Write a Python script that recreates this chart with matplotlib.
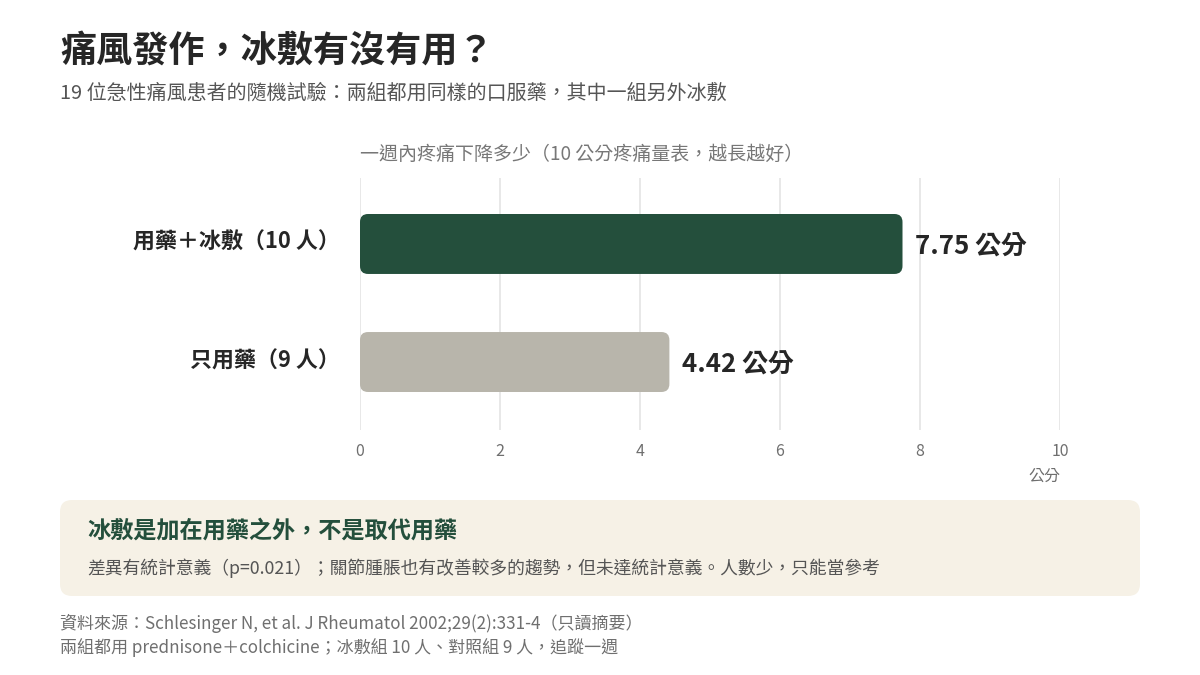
import matplotlib
matplotlib.use('Agg')
import matplotlib.pyplot as plt
from matplotlib.patches import FancyBboxPatch

plt.rcParams['font.family'] = ['Noto Sans CJK TC', 'DejaVu Sans']

# data
groups = ['用藥＋冰敷（10 人）', '只用藥（9 人）']
values = [7.75, 4.42]
value_labels = ['7.75 公分', '4.42 公分']
bar_colors = ['#244f3c', '#b8b5ab']
ticks = [0, 2, 4, 6, 8, 10]

fig = plt.figure(figsize=(12, 6.75), dpi=100)
fig.patch.set_facecolor('white')

# axes in pixel terms: x 360..1060 is 0..10, y 178..430
ax = fig.add_axes([360 / 1200, 1 - 430 / 675, 700 / 1200, 252 / 675])
ax.set_xlim(0, 10)
ax.set_ylim(-0.576, 1.559)
ax.patch.set_alpha(0)
ax.set_xticks(ticks)
ax.set_yticks([])
ax.grid(axis='x', color='#e8e8e8', lw=1.4)
ax.set_axisbelow(True)
ax.tick_params(axis='x', length=0, pad=9, labelsize=11.5, labelcolor='#6f6f6f')
for s in ax.spines.values():
    s.set_visible(False)

ypos = [1, 0]
for y, v, c, lab, g in zip(ypos, values, bar_colors, value_labels, groups):
    bar = FancyBboxPatch((0, y - 0.254), v, 0.508,
                         boxstyle='round,pad=0,rounding_size=0.114',
                         mutation_aspect=0.593, fc=c, ec='none', zorder=3)
    ax.add_patch(bar)
    ax.annotate(lab, (v, y), xytext=(9, -2), textcoords='offset points',
                va='center', ha='left', fontsize=18.6, fontweight='bold', color='#262626')
    ax.annotate(g, (0, y), xytext=(-14.7, 1), textcoords='offset points',
                va='center', ha='right', fontsize=15.8, fontweight='bold', color='#262626')

fig.text(60 / 1200, 1 - 51 / 675, '痛風發作，冰敷有沒有用？', fontsize=26, fontweight='bold',
         color='#262626', va='center')
fig.text(60 / 1200, 1 - 93 / 675, '19 位急性痛風患者的隨機試驗：兩組都用同樣的口服藥，其中一組另外冰敷',
         fontsize=14.4, color='#555555', va='center')
fig.text(360 / 1200, 1 - 154.5 / 675, '一週內疼痛下降多少（10 公分疼痛量表，越長越好）',
         fontsize=13.66, color='#777777', va='center')
fig.text(1060 / 1200, 1 - 476 / 675, '公分', fontsize=11.5, color='#6f6f6f', va='center', ha='right')

# callout box
bg = fig.add_axes([0, 0, 1, 1], zorder=-1)
bg.set_xlim(0, 1200)
bg.set_ylim(675, 0)
bg.axis('off')
bg.add_patch(FancyBboxPatch((60, 500), 1080, 96, boxstyle='round,pad=0,rounding_size=12',
                            fc='#f6f1e6', ec='none'))
fig.text(87.5 / 1200, 1 - 531 / 675, '冰敷是加在用藥之外，不是取代用藥', fontsize=16.7, fontweight='bold',
         color='#244f3c', va='center')
fig.text(87.5 / 1200, 1 - 568.5 / 675, '差異有統計意義（p=0.021）；關節腫脹也有改善較多的趨勢，但未達統計意義。人數少，只能當參考',
         fontsize=12.82, color='#555555', va='center')
fig.text(60 / 1200, 1 - 623 / 675, '資料來源：Schlesinger N, et al. J Rheumatol 2002;29(2):331-4（只讀摘要）',
         fontsize=12.26, color='#6f6f6f', va='center')
fig.text(60 / 1200, 1 - 647.5 / 675, '兩組都用 prednisone＋colchicine；冰敷組 10 人、對照組 9 人，追蹤一週',
         fontsize=12.26, color='#6f6f6f', va='center')

fig.savefig('out.png', dpi=100)
